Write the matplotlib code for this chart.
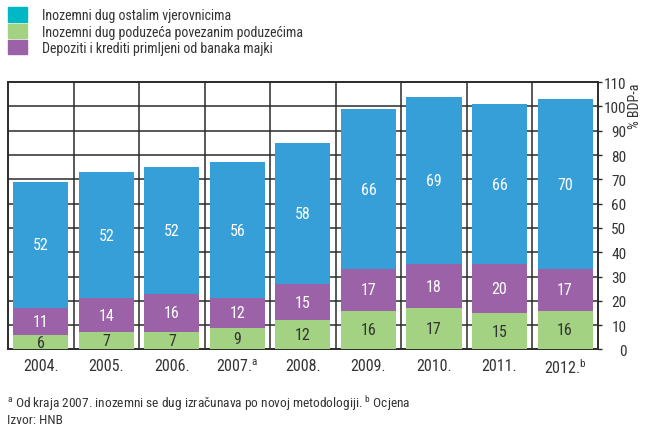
import matplotlib.pyplot as plt
from matplotlib.patches import Patch
from matplotlib import font_manager

# Data
years = ["2004.", "2005.", "2006.", "2007.$^{\\mathrm{a}}$", "2008.", "2009.", "2010.", "2011.", "2012.$^{\\mathrm{b}}$"]
povezana = [6, 7, 7, 9, 12, 16, 17, 15, 16]
depoziti = [11, 14, 16, 12, 15, 17, 18, 20, 17]
ostali = [52, 52, 52, 56, 58, 66, 69, 66, 70]

# condensed font, like the original
names = {f.name for f in font_manager.fontManager.ttflist}
font = "DejaVu Sans"
for cand in ["Roboto Condensed", "Barlow Condensed", "Archivo Narrow", "Liberation Sans Narrow"]:
    if cand in names:
        font = cand
        break
plt.rcParams["font.family"] = [font, "DejaVu Sans"]
plt.rcParams["mathtext.fontset"] = "custom"
plt.rcParams["mathtext.rm"] = font

c_green = "#a3d282"
c_purple = "#9b62a8"
c_blue = "#379fd8"
c_teal = "#00b8c4"
c_text = "#333333"
c_grid = "#2b2b2b"

fig = plt.figure(figsize=(6.51, 4.31), dpi=100)
ax = fig.add_axes([0.0123, 0.187, 0.906, 0.62])

x = list(range(len(years)))
w = 0.84
bottom2 = povezana
bottom3 = [a + b for a, b in zip(povezana, depoziti)]

ax.bar(x, povezana, w, color=c_green, zorder=3)
ax.bar(x, depoziti, w, bottom=bottom2, color=c_purple, zorder=3)
ax.bar(x, ostali, w, bottom=bottom3, color=c_blue, zorder=3)

for i in x:
    ax.text(i, povezana[i] / 2, str(povezana[i]), ha="center", va="center",
            fontsize=11.5, color=c_text, zorder=4)
    ax.text(i, bottom2[i] + depoziti[i] / 2, str(depoziti[i]), ha="center", va="center",
            fontsize=11.5, color="white", zorder=4)
    ax.text(i, bottom3[i] + ostali[i] / 2, str(ostali[i]), ha="center", va="center",
            fontsize=11.5, color="white", zorder=4)

ax.set_xlim(-0.5, len(years) - 0.5)
ax.set_ylim(0, 110)

# grid
for v in range(10, 110, 10):
    ax.axhline(v, color=c_grid, lw=1.1, zorder=1)
for v in range(len(years) - 1):
    ax.axvline(v + 0.5, color=c_grid, lw=1.1, zorder=1)

for s in ax.spines.values():
    s.set_color(c_grid)
    s.set_linewidth(1.4)

ax.yaxis.tick_right()
ax.set_yticks(range(0, 111, 10))
ax.tick_params(axis="y", length=3, width=1, colors=c_grid, labelcolor=c_text,
               labelsize=11, pad=17.5)
for lab in ax.get_yticklabels():
    lab.set_horizontalalignment("right")
ax.set_xticks(x)
ax.set_xticklabels(years)
ax.tick_params(axis="x", length=0, labelcolor=c_text, labelsize=11.5, pad=6)

fig.text(0.975, 0.807, "% BDP-a", rotation=90, ha="center", va="top",
         fontsize=10, color=c_text)

# legend
handles = [Patch(color=c_teal), Patch(color=c_green), Patch(color=c_purple)]
labels = ["Inozemni dug ostalim vjerovnicima",
          "Inozemni dug poduzeća povezanim poduzećima",
          "Depoziti i krediti primljeni od banaka majki"]
fig.legend(handles, labels, loc="upper left", bbox_to_anchor=(0.0, 1.0),
           frameon=False, fontsize=10, handlelength=1.37, handleheight=1.22,
           handletextpad=1.08, labelspacing=0.1, borderaxespad=0.2, borderpad=0.4,
           labelcolor=c_text)

fig.text(0.011, 0.064, "$^{\\mathrm{a}}$ Od kraja 2007. inozemni se dug izračunava po novoj metodologiji. "
         "$^{\\mathrm{b}}$ Ocjena", fontsize=9.6, color=c_text, va="center")
fig.text(0.011, 0.024, "Izvor: HNB", fontsize=9.6, color=c_text, va="center")

fig.savefig("out.png", dpi=100)
